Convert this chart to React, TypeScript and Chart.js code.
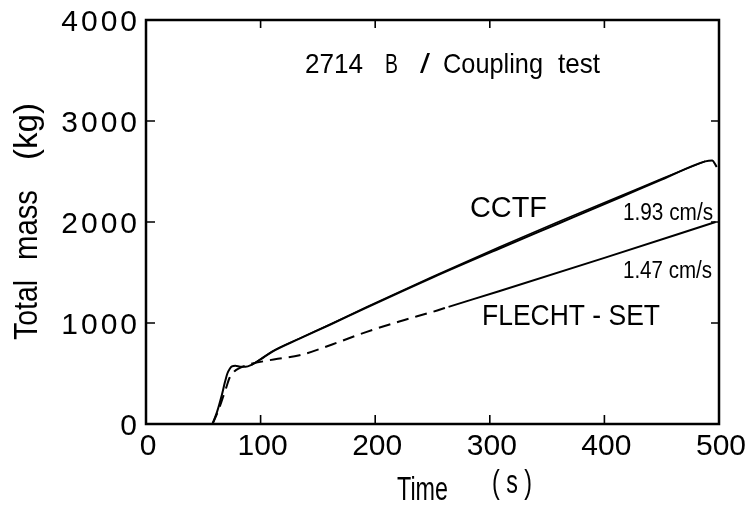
import { useEffect, useRef } from 'react';
import { Chart, registerables } from 'chart.js';

Chart.register(...registerables);

// ---- data ----
const cctfTime = [58, 62, 66, 69, 71, 73, 75, 78, 82, 87, 92, 100, 110, 134, 160, 192, 250, 308, 360, 415, 450, 488, 494, 498];
const cctfMass = [0, 120, 280, 420, 500, 545, 570, 577, 568, 566, 585, 640, 715, 845, 980, 1150, 1450, 1735, 1985, 2250, 2420, 2600, 2610, 2545];

const cctf2Time = [92, 100, 110, 134, 160, 192, 250, 308, 360, 415, 450, 488];
const cctf2Mass = [583, 642, 718, 848, 983, 1155, 1458, 1750, 2002, 2262, 2428, 2602];

const flechtTime = [58, 63, 67, 70, 73, 77, 82, 90, 102, 115, 134, 163, 192, 221, 250, 264, 308, 400, 497];
const flechtMass = [0, 130, 260, 360, 460, 520, 555, 590, 620, 645, 680, 790, 910, 1015, 1110, 1160, 1315, 1645, 2000];
const flechtDashedUntil = 264;

const xTicks = [0, 100, 200, 300, 400, 500];
const yTicks = [0, 1000, 2000, 3000, 4000];

const titlePieces = ['2714', 'B', '/', 'Coupling', 'test'];
const cctfLabel = 'CCTF';
const flechtLabel = 'FLECHT - SET';
const speedHigh = '1.93 cm/s';
const speedLow = '1.47 cm/s';
const xTitleWord = 'Time';
const xTitleUnit = '( s )';
const yTitleWords = ['Total', 'mass', '(kg)'];

const FONT = '"Liberation Sans", "DejaVu Sans", sans-serif';

function toPts(xs: number[], ys: number[]) {
  return xs.map((x, i) => ({ x, y: ys[i] }));
}

function fitText(ctx: CanvasRenderingContext2D, text: string, x0: number, x1: number, baseline: number, size: number) {
  ctx.font = `${size}px ${FONT}`;
  const w = ctx.measureText(text).width;
  ctx.save();
  ctx.translate(x0, baseline);
  ctx.scale((x1 - x0) / w, 1);
  ctx.textAlign = 'left';
  ctx.textBaseline = 'alphabetic';
  ctx.fillText(text, 0, 0);
  ctx.restore();
}

function fitTextRot(ctx: CanvasRenderingContext2D, text: string, yStart: number, yEnd: number, baselineX: number, size: number) {
  ctx.font = `${size}px ${FONT}`;
  const w = ctx.measureText(text).width;
  ctx.save();
  ctx.translate(baselineX, yStart);
  ctx.rotate(-Math.PI / 2);
  ctx.scale((yStart - yEnd) / w, 1);
  ctx.textAlign = 'left';
  ctx.textBaseline = 'alphabetic';
  ctx.fillText(text, 0, 0);
  ctx.restore();
}

const overlay = {
  id: 'overlay',
  beforeDraw(chart: any) {
    const ctx = chart.ctx as CanvasRenderingContext2D;
    ctx.save();
    ctx.fillStyle = '#ffffff';
    ctx.fillRect(0, 0, chart.width, chart.height);
    ctx.restore();
  },
  afterDraw(chart: any) {
    const ctx = chart.ctx as CanvasRenderingContext2D;
    const { left, right, top, bottom } = chart.chartArea;
    const xs = chart.scales.x;
    const ys = chart.scales.y;
    const X = (v: number) => xs.getPixelForValue(v);
    const Y = (v: number) => ys.getPixelForValue(v);

    ctx.save();
    ctx.strokeStyle = '#000';
    ctx.fillStyle = '#000';
    ctx.lineWidth = 2.5;
    ctx.strokeRect(left, top, right - left, bottom - top);

    // inward ticks
    ctx.lineWidth = 1.6;
    ctx.beginPath();
    xTicks.slice(1, -1).forEach((v) => {
      const px = X(v);
      ctx.moveTo(px, bottom);
      ctx.lineTo(px, bottom - 9);
      ctx.moveTo(px, top);
      ctx.lineTo(px, top + 8);
    });
    yTicks.slice(1, -1).forEach((v) => {
      const py = Y(v);
      ctx.moveTo(left, py);
      ctx.lineTo(left + 9, py);
      ctx.moveTo(right, py);
      ctx.lineTo(right - 8, py);
    });
    ctx.stroke();

    // tick labels
    ctx.font = `30px ${FONT}`;
    ctx.textBaseline = 'alphabetic';
    ctx.textAlign = 'center';
    xTicks.forEach((v) => {
      ctx.fillText(String(v), X(v) + 2, bottom + 31);
    });
    ctx.textAlign = 'right';
    (ctx as any).letterSpacing = '3px';
    yTicks.forEach((v) => {
      ctx.fillText(String(v), left - 6, Y(v) + 11);
    });
    (ctx as any).letterSpacing = '0px';

    // axis titles
    fitText(ctx, xTitleWord, 397, 448, 500, 33);
    fitText(ctx, xTitleUnit, 492, 532, 493, 33);
    fitTextRot(ctx, yTitleWords[0], 340, 280, 37, 33);
    fitTextRot(ctx, yTitleWords[1], 260, 190, 37, 33);
    fitTextRot(ctx, yTitleWords[2], 160, 103, 37, 33);

    // annotations (data coordinates)
    const tb = Y(3475);
    fitText(ctx, titlePieces[0], X(138.7), X(189.4), tb, 28);
    fitText(ctx, titlePieces[1], X(208.6), X(219.9), tb, 28);
    fitText(ctx, titlePieces[2], X(239.1), X(247.8), tb, 28);
    fitText(ctx, titlePieces[3], X(259.2), X(346.4), tb, 28);
    fitText(ctx, titlePieces[4], X(359.5), X(396.2), tb, 28);

    fitText(ctx, cctfLabel, X(282.7), X(349.9), Y(2050), 30);
    fitText(ctx, speedHigh, X(416.2), X(494.8), Y(2020), 23);
    fitText(ctx, speedLow, X(416.2), X(493.9), Y(1446), 23);
    fitText(ctx, flechtLabel, X(293.2), X(448.5), Y(980), 30);

    ctx.restore();
  },
};

export default function App() {
  const ref = useRef<HTMLCanvasElement | null>(null);

  useEffect(() => {
    if (!ref.current) return;
    const lineBase = {
      borderColor: '#000',
      borderWidth: 2,
      pointRadius: 0,
      fill: false,
      cubicInterpolationMode: 'monotone' as const,
    };
    const chart = new Chart(ref.current, {
      type: 'line',
      data: {
        datasets: [
          { ...lineBase, label: 'CCTF', data: toPts(cctfTime, cctfMass) },
          { ...lineBase, label: 'CCTF (2)', borderWidth: 1.6, data: toPts(cctf2Time, cctf2Mass) },
          {
            ...lineBase,
            label: 'FLECHT-SET',
            data: toPts(flechtTime, flechtMass),
            segment: {
              borderDash: (c: any) => (c.p1.parsed.x <= flechtDashedUntil ? [12, 7] : undefined),
            },
          },
        ],
      },
      options: {
        responsive: false,
        animation: false,
        parsing: true,
        layout: { padding: { left: 146, right: 35, top: 20, bottom: 83 } },
        plugins: { legend: { display: false }, tooltip: { enabled: false }, title: { display: false } },
        events: [],
        scales: {
          x: { type: 'linear', min: 0, max: 500, display: false },
          y: { type: 'linear', min: 0, max: 4000, display: false },
        },
      },
      plugins: [overlay],
    });
    return () => chart.destroy();
  }, []);

  return (
    <div style={{ position: 'absolute', left: 0, top: 0, width: 754, height: 507, background: '#fff' }}>
      <canvas ref={ref} width={754} height={507} style={{ display: 'block', width: 754, height: 507 }} />
    </div>
  );
}
